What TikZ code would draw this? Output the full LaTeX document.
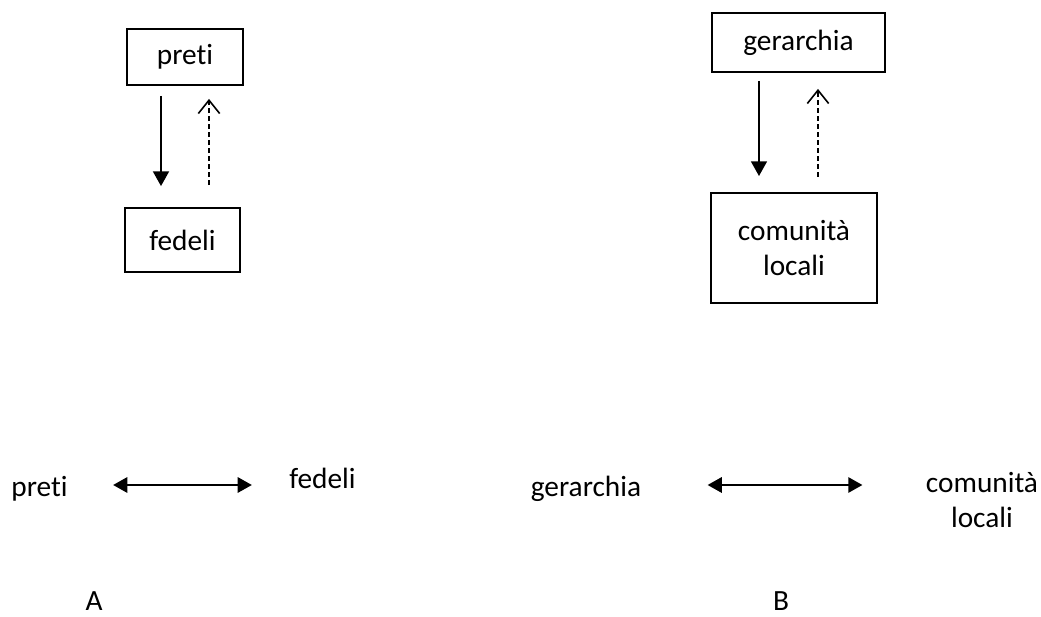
\documentclass[tikz,border=0pt]{standalone}
\usepackage{fontspec}
\setmainfont[Ligatures=NoCommon]{Carlito}
\usepackage{tikz}
\usetikzlibrary{
    arrows.meta,
    positioning,
    calc
}

\begin{document}
\begin{tikzpicture}[
    x=0.375pt,
    y=-0.375pt,
    every node/.style={
        font=\fontsize{11}{13.1}\selectfont
    },
    rolebox/.style={
        draw=black,
        line width=0.7pt,
        align=center,
        inner sep=2pt
    },
    rolelabel/.style={
        align=center,
        anchor=base,
        inner sep=0pt
    },
    downarrow/.style={
        -{Triangle[length=5.5pt,width=6pt]},
        line width=0.6pt
    },
    backarrow/.style={
        -{Straight Barb[length=5pt,width=8pt]},
        line width=0.6pt,
        dash pattern=on 2pt off 1pt
    },
    bothways/.style={
        {Triangle[length=5.3pt,width=5.8pt]}-{Triangle[length=5.3pt,width=5.8pt]},
        line width=0.6pt
    }
]

\useasboundingbox (0,0) rectangle (1041,617);

\node[
    rolebox,
    minimum width=43.5pt,
    minimum height=21pt
] (preti) at (185,57) {preti};

\node[
    rolebox,
    minimum width=43.1pt,
    minimum height=24pt
] (fedeli) at (182.5,240) {fedeli};

\node[
    rolebox,
    minimum width=64.9pt,
    minimum height=22.1pt
] (gerarchia) at (798.5,42.5) {gerarchia};

\node[
    rolebox,
    minimum width=62.3pt,
    minimum height=41.3pt
] (comunita) at (794,248) {comunità\\locali};

\draw[downarrow] ($(preti.south)+(-24,10)$) -- ($(fedeli.north)+(-21.5,-21)$);
\draw[backarrow] ($(fedeli.north)+(26.5,-22)$) -- ($(preti.south)+(24,13)$);

\draw[downarrow] ($(gerarchia.south)+(-39.5,8)$) -- ($(comunita.north)+(-35,-16)$);
\draw[backarrow] ($(comunita.north)+(24,-15)$) -- ($(gerarchia.south)+(19.5,16)$);

\node[rolelabel] (pretiA) at (39.5,496) {preti};
\node[rolelabel] (fedeliA) at (322.5,488) {fedeli};
\node[rolelabel] (gerarchiaB) at (586,497) {gerarchia};
\node[align=center, inner sep=0pt] (comunitaB) at (982,500) {comunità\\locali};

\draw[bothways] ($(pretiA.base east)+(45,-11)$) -- ($(fedeliA.base west)+(-37,-3)$);
\draw[bothways] ($(gerarchiaB.base east)+(66,-12)$) -- ($(comunitaB.west)+(-63,-15)$);

\node[rolelabel] (labelA) at (94,611) {A};
\node[rolelabel] (labelB) at (781,611) {B};

\end{tikzpicture}
\end{document}
